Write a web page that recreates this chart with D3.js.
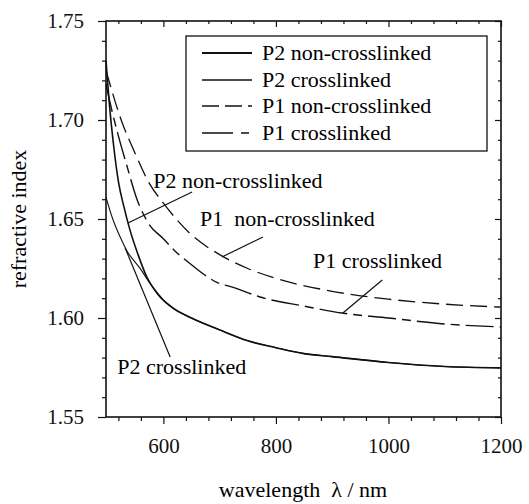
<!DOCTYPE html>
<html><head><meta charset="utf-8">
<script src="https://cdn.jsdelivr.net/npm/d3@7"></script>
<style>html,body{margin:0;padding:0;background:#fff;}</style>
</head>
<body><svg id="chart" width="529" height="504"></svg>
<script>
// ---- data ----
const seriesNames = ["P2 non-crosslinked","P2 crosslinked","P1 non-crosslinked","P1 crosslinked"];
const p2NonWl  = [498,505,512,520,530,540,555,570,590,615,650,700,750,800,850,900,1000,1100,1200];
const p2NonN   = [1.730,1.705,1.686,1.669,1.656,1.645,1.632,1.621,1.612,1.6055,1.600,1.594,1.5885,1.585,1.582,1.5805,1.5775,1.5755,1.5748];
const p2CrWl   = [498,510,523,535,558,575,590,605,620,650,700,750,800,850,900,1000,1100,1200];
const p2CrN    = [1.661,1.650,1.641,1.634,1.6253,1.618,1.6125,1.6075,1.6043,1.600,1.594,1.5885,1.585,1.582,1.5805,1.5775,1.5755,1.5748];
const p1NonWl  = [498,525,550,575,600,650,700,750,800,900,1000,1100,1200];
const p1NonN   = [1.725,1.700,1.683,1.668,1.658,1.642,1.632,1.625,1.620,1.6135,1.6095,1.607,1.6055];
const p1CrWl   = [498,510,520,535,553,573,600,620,645,665,695,724,772,850,917,1000,1100,1200];
const p1CrN    = [1.718,1.703,1.692,1.677,1.660,1.648,1.640,1.634,1.628,1.6235,1.618,1.6155,1.6106,1.606,1.6025,1.600,1.597,1.5955];
const xMajor = [600,800,1000,1200];
const xMinor = [520,560,640,680,720,760,840,880,920,960,1040,1080,1120,1160];
const yMajor = [1.55,1.60,1.65,1.70,1.75];
const yMinor = [1.56,1.57,1.58,1.59,1.61,1.62,1.63,1.64,1.66,1.67,1.68,1.69,1.71,1.72,1.73,1.74];
// annotation: label anchor (wl,n) and pointer from/to
const annText  = ["P2 non-crosslinked","P1  non-crosslinked","P1 crosslinked","P2 crosslinked"];
const annLabel = [[582,1.6657],[665,1.6465],[866,1.6253],[518,1.5717]];
const annFrom  = [[651,1.6636],[777,1.6409],[989,1.6192],[532,1.6354]];
const annTo    = [[537,1.648],[704,1.6308],[919,1.6025],[612,1.5803]];

// ---- chart ----
const FONT = '"Liberation Serif"';
const svg = d3.select("#chart");
const x = d3.scaleLinear().domain([498,1200]).range([106,501]);
const y = d3.scaleLinear().domain([1.55,1.75]).range([417,21]);
const styles = [
  {w:1.6, dash:null},
  {w:1.1, dash:null},
  {w:1.3, dash:"17,7"},
  {w:1.4, dash:"28,6,9,6"}
];
const series = [
  {wl:p2NonWl,n:p2NonN},{wl:p2CrWl,n:p2CrN},{wl:p1NonWl,n:p1NonN},{wl:p1CrWl,n:p1CrN}
];

const line = d3.line().x(d=>x(d[0])).y(d=>y(d[1])).curve(d3.curveMonotoneX);
series.forEach((s,i)=>{
  const pts = s.wl.map((w,j)=>[w,s.n[j]]);
  svg.append("path").datum(pts).attr("d",line)
    .attr("fill","none").attr("stroke","#111")
    .attr("stroke-width",styles[i].w)
    .attr("stroke-dasharray",styles[i].dash);
});

// axes
function styleAxis(g){ g.attr("font-family",null); g.select(".domain").remove(); g.selectAll("line").attr("stroke","#111").attr("stroke-width",1.2);
  g.selectAll("text").style("font-family",FONT).style("font-size","21px").style("fill","#111"); }
svg.append("g").attr("transform","translate(0,417)")
  .call(d3.axisBottom(x).tickValues(xMajor).tickSize(7).tickPadding(14).tickFormat(d3.format("d")))
  .call(styleAxis);
svg.append("g").attr("transform","translate(0,417)")
  .call(d3.axisBottom(x).tickValues(xMinor).tickSize(4).tickFormat(""))
  .call(styleAxis);
svg.append("g").attr("transform","translate(106,0)")
  .call(d3.axisLeft(y).tickValues(yMajor).tickSize(8).tickPadding(14).tickFormat(d3.format(".2f")))
  .call(styleAxis);
svg.append("g").attr("transform","translate(106,0)")
  .call(d3.axisLeft(y).tickValues(yMinor).tickSize(4).tickFormat(""))
  .call(styleAxis);
// top & right inward ticks
svg.append("g").attr("transform","translate(0,21)")
  .call(d3.axisBottom(x).tickValues(xMajor).tickSize(6).tickFormat("")).call(styleAxis);
svg.append("g").attr("transform","translate(0,21)")
  .call(d3.axisBottom(x).tickValues(xMinor).tickSize(3).tickFormat("")).call(styleAxis);
svg.append("g").attr("transform","translate(501,0)")
  .call(d3.axisLeft(y).tickValues(yMajor).tickSize(6).tickFormat("")).call(styleAxis);
svg.append("g").attr("transform","translate(501,0)")
  .call(d3.axisLeft(y).tickValues(yMinor).tickSize(3).tickFormat("")).call(styleAxis);
// frame
svg.append("rect").attr("x",x.range()[0]).attr("y",y.range()[1])
  .attr("width",x.range()[1]-x.range()[0]).attr("height",y.range()[0]-y.range()[1])
  .attr("fill","none").attr("stroke","#111").attr("stroke-width",1.6);

// axis titles
svg.append("text").attr("x",303).attr("y",497).attr("text-anchor","middle")
  .style("font-family",FONT).style("font-size","22px").style("white-space","pre").text("wavelength  λ / nm");
svg.append("text").attr("transform","translate(26,219) rotate(-90)").attr("text-anchor","middle")
  .style("font-family",FONT).style("font-size","22px").text("refractive index");

// legend
const lg = svg.append("g");
lg.append("rect").attr("x",186).attr("y",36).attr("width",301).attr("height",115)
  .attr("fill","#fff").attr("stroke","#111").attr("stroke-width",1.3);
const rowY = [53,80,106,133];
seriesNames.forEach((nm,i)=>{
  lg.append("line").attr("x1",202).attr("x2",252).attr("y1",rowY[i]).attr("y2",rowY[i])
    .attr("stroke","#111").attr("stroke-width",styles[i].w+0.2)
    .attr("stroke-dasharray",i===2?"17,6":(i===3?"31,8,8,6":null));
  lg.append("text").attr("x",262).attr("y",rowY[i]+7).style("font-family",FONT).style("font-size","22px").text(nm);
});

// annotations
annText.forEach((t,i)=>{
  svg.append("line").attr("x1",x(annFrom[i][0])).attr("y1",y(annFrom[i][1]))
    .attr("x2",x(annTo[i][0])).attr("y2",y(annTo[i][1]))
    .attr("stroke","#111").attr("stroke-width",1.2);
  svg.append("text").attr("x",x(annLabel[i][0])).attr("y",y(annLabel[i][1]))
    .style("font-family",FONT).style("font-size","22px").style("white-space","pre").text(t);
});
</script></body></html>
